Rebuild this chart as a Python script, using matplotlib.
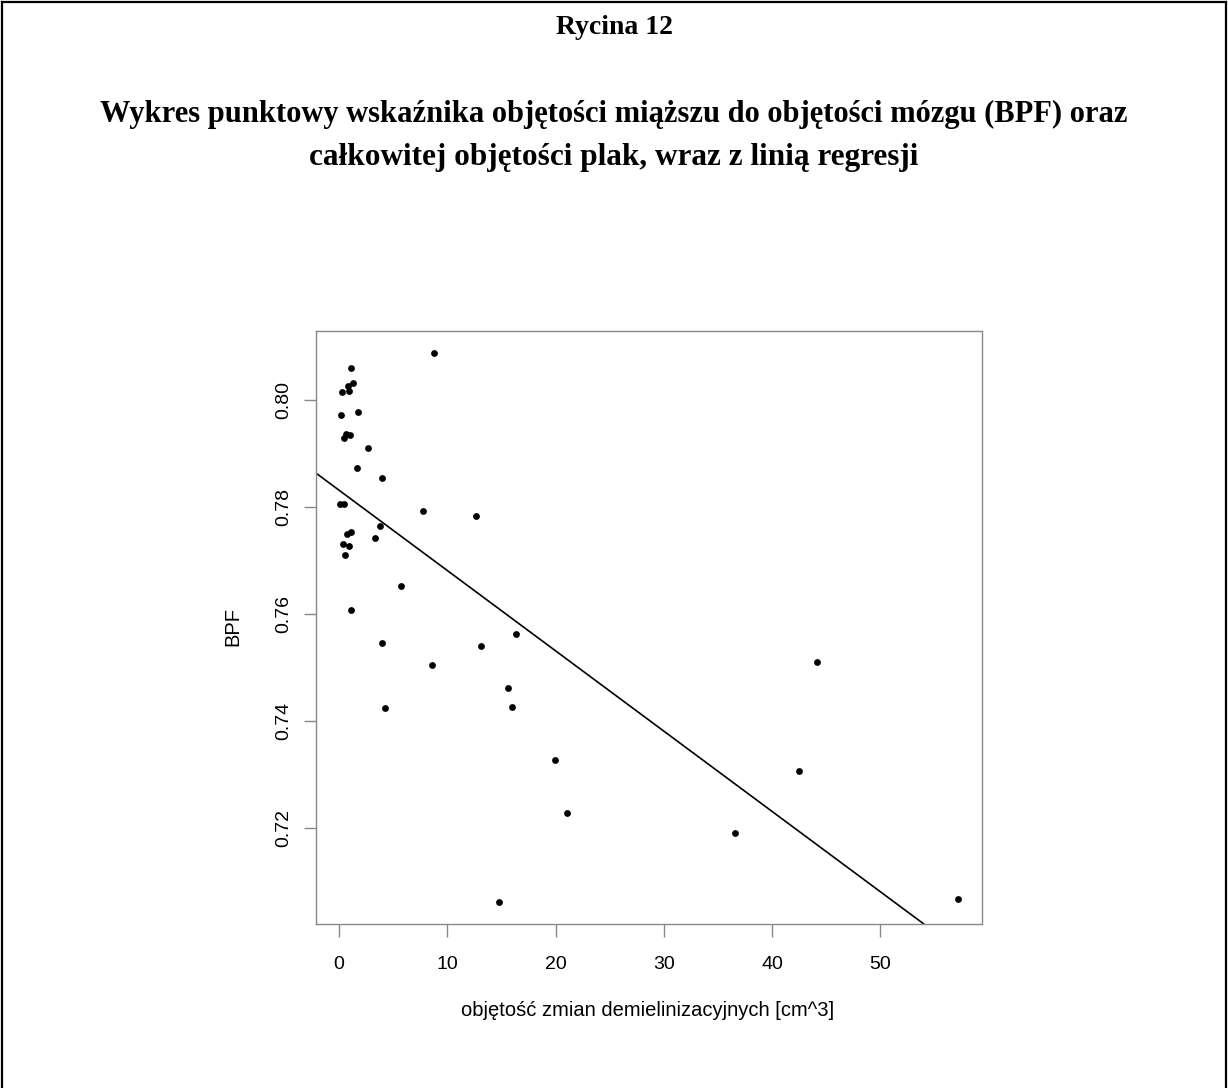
import numpy as np
import matplotlib
matplotlib.use("Agg")
import matplotlib.pyplot as plt
from matplotlib.lines import Line2D

# Lesion volume [cm^3]
lesion_volume = [8.73, 1.11, 1.29, 0.86, 0.30, 0.95, 0.15, 1.75, 0.67, 1.04,
                 0.49, 2.68, 1.69, 3.93, 0.12, 0.49, 7.72, 12.61, 3.81, 0.70,
                 1.11, 3.35, 0.37, 0.95, 0.58, 5.72, 1.14, 16.30, 4.00, 13.13,
                 8.55, 15.63, 4.27, 16.00, 19.94, 21.04, 14.80, 44.12, 42.46,
                 36.58, 57.13]
# Brain parenchymal fraction
bpf = [0.8088, 0.8060, 0.8032, 0.8027, 0.8015, 0.8017, 0.7973, 0.7977, 0.7937,
       0.7935, 0.7929, 0.7910, 0.7874, 0.7854, 0.7806, 0.7806, 0.7792, 0.7784,
       0.7764, 0.7750, 0.7753, 0.7742, 0.7732, 0.7727, 0.7711, 0.7652, 0.7608,
       0.7564, 0.7546, 0.7540, 0.7506, 0.7463, 0.7424, 0.7426, 0.7328, 0.7228,
       0.7063, 0.7510, 0.7307, 0.7192, 0.7069]

x_ticks = [0, 10, 20, 30, 40, 50]
y_ticks = [0.72, 0.74, 0.76, 0.78, 0.80]
title_lines = ["Rycina 12",
               "Wykres punktowy wskaźnika objętości miąższu do objętości mózgu (BPF) oraz",
               "całkowitej objętości plak, wraz z linią regresji"]
xlabel = "objętość zmian demielinizacyjnych [cm^3]"
ylabel = "BPF"

W, H = 1228, 1088
fig = plt.figure(figsize=(W / 100, H / 100), dpi=100)
fig.patch.set_facecolor("white")

# page frame (left, top, right)
for xs, ys in [([0.002, 0.002], [0, 0.998]), ([0.002, 0.998], [0.998, 0.998]),
               ([0.998, 0.998], [0, 0.998])]:
    fig.add_artist(Line2D(xs, ys, transform=fig.transFigure, color="black", lw=1.6))

serif = ["Liberation Serif", "DejaVu Serif"]
sans = ["Liberation Sans", "DejaVu Sans"]
for ypx, txt, fs in zip([28, 114, 157], title_lines, [20, 22, 22.5]):
    fig.text(0.5, 1 - ypx / H, txt, ha="center", va="center",
             fontsize=fs, fontweight="bold", family=serif)

left, right, top, bottom = 315.7, 982.3, 331.0, 923.7
ax = fig.add_axes([left / W, 1 - bottom / H, (right - left) / W, (bottom - top) / H])

x = np.array(lesion_volume)
y = np.array(bpf)
ax.scatter(x, y, s=24, color="black", linewidths=0, zorder=3)

slope, intercept = np.polyfit(x, y, 1)
ax.axline((0, intercept), slope=slope, color="black", lw=1.2, zorder=2)

xr = x.max() - x.min()
yr = y.max() - y.min()
ax.set_xlim(x.min() - 0.04 * xr, x.max() + 0.04 * xr)
ax.set_ylim(y.min() - 0.04 * yr, y.max() + 0.04 * yr)

ax.set_xticks(x_ticks)
ax.set_xticklabels([str(t) for t in x_ticks])
ax.set_yticks(y_ticks)
ax.set_yticklabels([f"{t:.2f}" for t in y_ticks], rotation=90, va="center")

for sp in ax.spines.values():
    sp.set_color("#888888")
    sp.set_linewidth(1.0)
ax.tick_params(axis="both", colors="#888888", length=9, width=1.0,
               labelcolor="black", labelsize=14)
ax.tick_params(axis="x", pad=14)
ax.tick_params(axis="y", pad=8)
for lab in ax.get_xticklabels() + ax.get_yticklabels():
    lab.set_family(sans)

fig.text(648 / W, 1 - 1011 / H, xlabel, ha="center", va="center",
         fontsize=14.5, family=sans)
fig.text(233 / W, 1 - 627 / H, ylabel, ha="center", va="center",
         rotation=90, fontsize=14.5, family=sans)

fig.savefig("out.png", dpi=100, facecolor="white")
